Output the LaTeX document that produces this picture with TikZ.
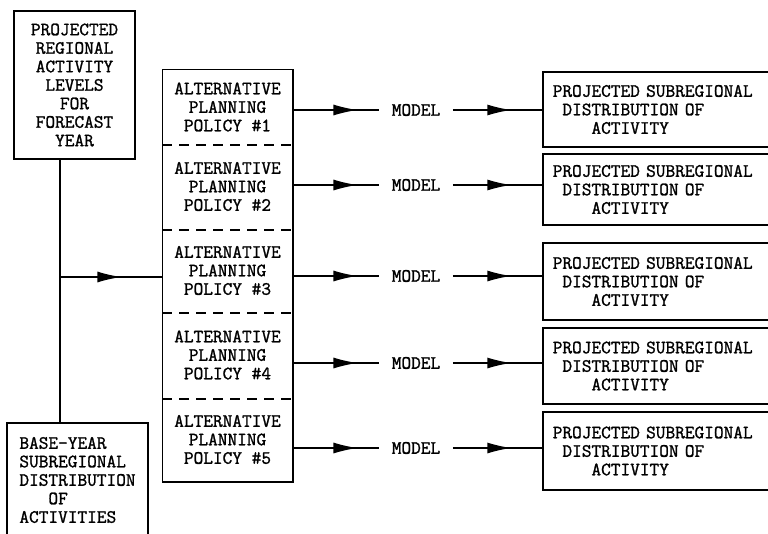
\documentclass[tikz,border=0pt]{standalone}
\usepackage{fontspec}
\newfontfamily\typefont{Latin Modern Mono}[FakeBold=1.3]
\usetikzlibrary{arrows.meta,decorations.markings}

\begin{document}
\begin{tikzpicture}
    [x = 1pt, y = -1pt, line width = 1.5pt,
     font = \typefont\fontsize{18.8}{18.5}\selectfont,
     box/.style = {rectangle, draw, inner sep = 0pt},
     policy/.style = {rectangle, align = center, minimum width = 129pt, inner sep = 0pt},
     result/.style = {rectangle, draw, anchor = west, align = left, text width = 213pt,
                      inner xsep = 10pt, inner ysep = 0pt},
     modelname/.style = {inner xsep = 12pt, inner ysep = 0pt},
     midarrow/.style = {postaction = {decorate}, decoration = {markings,
                        mark = at position #1 with {\arrow{Latex[length=24pt,width=11pt]}}}}]
    \useasboundingbox (0,0) rectangle (768,533);
    \clip (0,0) rectangle (768,533);
    % input boxes
    \node[box, minimum width = 121pt, minimum height = 148pt, align = center] (regional) at (74.5,85)
      {PROJECTED\\REGIONAL\\ACTIVITY\\LEVELS\\FOR\\FORECAST\\YEAR};
    \node[box, minimum width = 141pt, minimum height = 114pt, align = left] (base) at (77.5,480)
      {BASE-YEAR\\SUBREGIONAL\\DISTRIBUTION\\\phantom{OOO}OF\\ACTIVITIES};
    \coordinate (j) at (60,277);
    % policy column
    \foreach \i/\py/\ph in {1/107/74, 2/186.5/85, 3/270.5/83, 4/355/86, 5/439.5/83}
      \node[policy, minimum height = \ph pt] (p\i) at (227.5,\py) {ALTERNATIVE\\PLANNING\\POLICY \#\i};
    \draw (p1.north west) rectangle (p5.south east);
    \foreach \i in {1,...,4}
      \draw[dash pattern = on 10pt off 7pt] (p\i.south west) -- (p\i.south east);
    \draw (regional.south -| j) -- (base.north -| j);
    \draw[midarrow = 0.6] (j) -- (p3.west |- j);
    % model rows
    \foreach \i/\my/\oy/\oh in {1/110/109.5/75, 2/185/189.5/71, 3/276/281.5/77, 4/363/366/76, 5/448/451/78}
    {
      \node[modelname] (m\i) at (416,\my) {MODEL};
      \node[result, minimum height = \oh pt] (o\i) at (542,\oy)
        {PROJECTED SUBREGIONAL\\\phantom{D}DISTRIBUTION OF\\\phantom{ACTI}ACTIVITY};
      \draw[midarrow = 0.75] (p\i.east |- m\i) -- (m\i.west);
      \draw[midarrow = 0.655] (m\i.east) -- (o\i.west |- m\i);
    }
  \end{tikzpicture}
\end{document}
